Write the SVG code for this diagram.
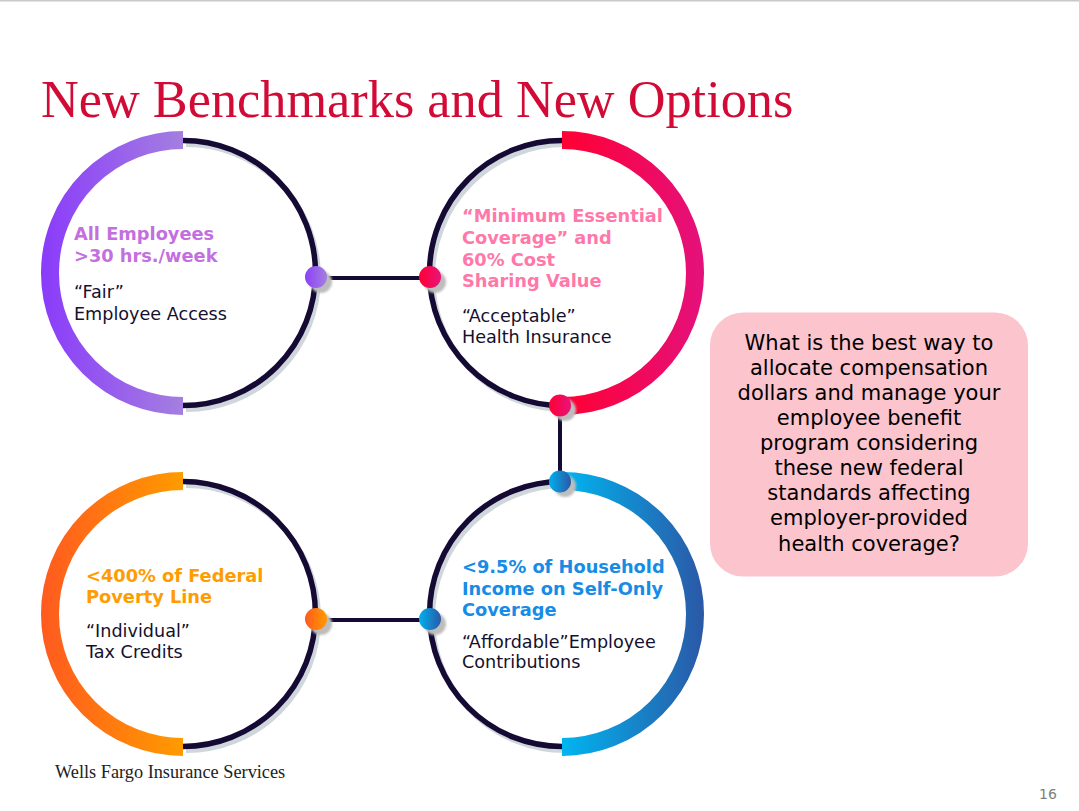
<svg xmlns="http://www.w3.org/2000/svg" width="1079" height="811" viewBox="0 0 1079 811">
  <defs>
    <linearGradient id="gPurple" gradientUnits="userSpaceOnUse" x1="41" y1="0" x2="183" y2="0">
      <stop offset="0" stop-color="#8a3bfa"/>
      <stop offset="1" stop-color="#a47fe0"/>
    </linearGradient>
    <linearGradient id="gRed" gradientUnits="userSpaceOnUse" x1="562" y1="0" x2="704" y2="0">
      <stop offset="0" stop-color="#ff0033"/>
      <stop offset="1" stop-color="#e4117c"/>
    </linearGradient>
    <linearGradient id="gBlue" gradientUnits="userSpaceOnUse" x1="562" y1="0" x2="704" y2="0">
      <stop offset="0" stop-color="#00b5f0"/>
      <stop offset="1" stop-color="#2b58a6"/>
    </linearGradient>
    <linearGradient id="gOrange" gradientUnits="userSpaceOnUse" x1="41" y1="0" x2="183" y2="0">
      <stop offset="0" stop-color="#ff5a1f"/>
      <stop offset="1" stop-color="#ff9b00"/>
    </linearGradient>
    <linearGradient id="dPurple" x1="0" y1="0" x2="1" y2="0">
      <stop offset="0" stop-color="#8c40f8"/>
      <stop offset="1" stop-color="#a47fe0"/>
    </linearGradient>
    <linearGradient id="dRed" x1="0" y1="0" x2="1" y2="0">
      <stop offset="0" stop-color="#ff0033"/>
      <stop offset="1" stop-color="#e8137a"/>
    </linearGradient>
    <linearGradient id="dBlue" x1="0" y1="0" x2="1" y2="0">
      <stop offset="0" stop-color="#00b0ef"/>
      <stop offset="1" stop-color="#2b58a6"/>
    </linearGradient>
    <linearGradient id="dOrange" x1="0" y1="0" x2="1" y2="0">
      <stop offset="0" stop-color="#ff5a1f"/>
      <stop offset="1" stop-color="#ff9b00"/>
    </linearGradient>
    <filter id="soft" x="-50%" y="-50%" width="200%" height="200%">
      <feGaussianBlur stdDeviation="1.2"/>
    </filter>
  </defs>
  <style>
    .band { fill: none; stroke-width: 18; }
    .ring { fill: none; stroke: #150a33; stroke-width: 5.5; }
    .ringsh { fill: none; stroke: #cfd7dc; stroke-width: 5; }
    .conn { stroke: #150a33; stroke-width: 4; fill: none; }
    .dotsh { fill: #bdbdbd; filter: url(#soft); }
    .head { font-family: "DejaVu Sans", Verdana, sans-serif; font-weight: bold; font-size: 17.8px; }
    .body { font-family: "DejaVu Sans", Verdana, sans-serif; font-size: 17.6px; fill: #14102e; }
    .q { font-family: "DejaVu Sans", Verdana, sans-serif; font-size: 21px; fill: #000000; text-anchor: middle; }
  </style>

  <rect x="0" y="0" width="1079" height="811" fill="#ffffff"/>
  <line x1="0" y1="0.5" x2="1079" y2="0.5" stroke="#c8c8c8" stroke-width="2"/>

  <text x="41" y="117" font-family="'Liberation Serif', 'Times New Roman', serif" font-size="52.3" fill="#d20a36">New Benchmarks and New Options</text>

  <!-- rings -->
  <g id="node-fair">
    <path class="ringsh" d="M186,144.5 A132.5,132.5 0 0 1 186,409.5"/>
    <path class="ring" d="M183,140.5 A132.5,132.5 0 0 1 183,405.5"/>
    <path class="band" stroke="url(#gPurple)" d="M183,140 A133,133 0 0 0 183,406"/>
  </g>
  <g id="node-acceptable">
    <path class="ringsh" d="M565,144.5 A132.5,132.5 0 0 0 565,409.5"/>
    <path class="ring" d="M562,140.5 A132.5,132.5 0 0 0 562,405.5"/>
    <path class="band" stroke="url(#gRed)" d="M562,140 A133,133 0 0 1 562,406"/>
  </g>
  <g id="node-affordable">
    <path class="ringsh" d="M565,485.5 A132.5,132.5 0 0 0 565,750.5"/>
    <path class="ring" d="M562,481.5 A132.5,132.5 0 0 0 562,746.5"/>
    <path class="band" stroke="url(#gBlue)" d="M562,481 A133,133 0 0 1 562,747"/>
  </g>
  <g id="node-individual">
    <path class="ringsh" d="M186,485.5 A132.5,132.5 0 0 1 186,750.5"/>
    <path class="ring" d="M183,481.5 A132.5,132.5 0 0 1 183,746.5"/>
    <path class="band" stroke="url(#gOrange)" d="M183,481 A133,133 0 0 0 183,747"/>
  </g>

  <g id="connectors">
    <line class="conn" x1="316" y1="278" x2="430" y2="278"/>
    <line class="conn" x1="560" y1="405" x2="560" y2="482"/>
    <line class="conn" x1="316" y1="620" x2="430" y2="620"/>
    <circle class="dotsh" cx="321" cy="282" r="11"/>
    <circle class="dotsh" cx="435" cy="282" r="11"/>
    <circle class="dotsh" cx="565" cy="410" r="11"/>
    <circle class="dotsh" cx="565" cy="486" r="11"/>
    <circle class="dotsh" cx="435" cy="624" r="11"/>
    <circle class="dotsh" cx="321" cy="624" r="11"/>
    <circle cx="316" cy="277" r="11" fill="url(#dPurple)"/>
    <circle cx="430" cy="277" r="11" fill="url(#dRed)"/>
    <circle cx="560" cy="405.5" r="11" fill="url(#dRed)"/>
    <circle cx="560" cy="481.5" r="11" fill="url(#dBlue)"/>
    <circle cx="430" cy="619" r="11" fill="url(#dBlue)"/>
    <circle cx="316" cy="619" r="11" fill="url(#dOrange)"/>
  </g>

  <g id="text-fair">
    <text class="head" fill="#c46fdf" x="74" y="240">All Employees</text>
    <text class="head" fill="#c46fdf" x="74" y="262">&gt;30 hrs./week</text>
    <text class="body" x="74" y="298">“Fair”</text>
    <text class="body" x="74" y="320">Employee Access</text>
  </g>
  <g id="text-acceptable">
    <text class="head" fill="#ff78a9" x="462" y="222">“Minimum Essential</text>
    <text class="head" fill="#ff78a9" x="462" y="244">Coverage” and</text>
    <text class="head" fill="#ff78a9" x="462" y="266">60% Cost</text>
    <text class="head" fill="#ff78a9" x="462" y="287">Sharing Value</text>
    <text class="body" x="462" y="322">“Acceptable”</text>
    <text class="body" x="462" y="343">Health Insurance</text>
  </g>
  <g id="text-affordable">
    <text class="head" fill="#168ce6" x="462" y="573">&lt;9.5% of Household</text>
    <text class="head" fill="#168ce6" x="462" y="595">Income on Self-Only</text>
    <text class="head" fill="#168ce6" x="462" y="616">Coverage</text>
    <text class="body" x="462" y="648">“Affordable”Employee</text>
    <text class="body" x="462" y="668">Contributions</text>
  </g>
  <g id="text-individual">
    <text class="head" fill="#ff9c00" x="86" y="582">&lt;400% of Federal</text>
    <text class="head" fill="#ff9c00" x="86" y="603">Poverty Line</text>
    <text class="body" x="86" y="637">“Individual”</text>
    <text class="body" x="86" y="658">Tax Credits</text>
  </g>

  <g id="node-question">
    <rect x="710" y="312.5" width="318" height="264" rx="33" ry="33" fill="#fcc4cd"/>
    <text class="q" x="869" y="350">What is the best way to</text>
    <text class="q" x="869" y="375">allocate compensation</text>
    <text class="q" x="869" y="400">dollars and manage your</text>
    <text class="q" x="869" y="425">employee benefit</text>
    <text class="q" x="869" y="450">program considering</text>
    <text class="q" x="869" y="475">these new federal</text>
    <text class="q" x="869" y="500">standards affecting</text>
    <text class="q" x="869" y="525">employer-provided</text>
    <text class="q" x="869" y="551">health coverage?</text>
  </g>

  <text x="55" y="778" font-family="'Liberation Serif', 'Times New Roman', serif" font-size="18.3" fill="#222222">Wells Fargo Insurance Services</text>
  <text x="1039" y="799" font-family="'DejaVu Sans', Verdana, sans-serif" font-size="14" fill="#808080">16</text>
</svg>
